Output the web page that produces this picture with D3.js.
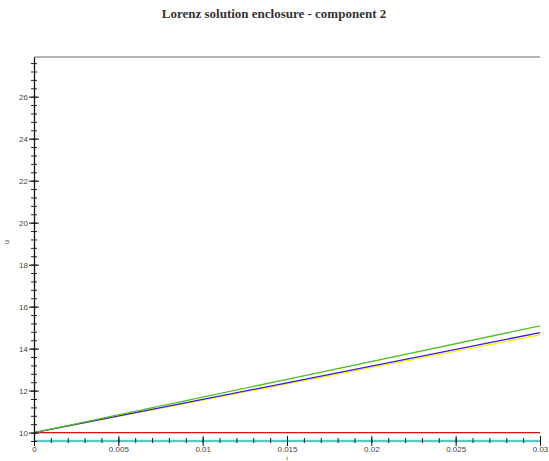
<!DOCTYPE html>
<html>
<head>
<meta charset="utf-8">
<script src="https://cdn.jsdelivr.net/npm/d3@7"></script>
<style>
  body { margin: 0; background: #fff; }
  svg { display: block; }
</style>
</head>
<body>
<div id="chart"></div>
<script>
var width = 549,
    height = 461,
    margins = {top: 57, right: 9, bottom: 20, left: 34}

var title = 'Lorenz solution enclosure - component 2'

// time samples and enclosure bounds (component 2)
var t = [0, 0.015, 0.03]
var lower = [10, 10, 10]
var upperGreen = [10, 12.54, 15.08]
var blueLine = [10, 12.37, 14.76]
var yellowLine = [10, 12.32, 14.66]
var axisLine = [9.6, 9.6, 9.6]

var xMajor = [0, 0.005, 0.01, 0.015, 0.02, 0.025, 0.03]
var xMajorLabels = ['0', '0.005', '0.01', '0.015', '0.02', '0.025', '0.03']
var yMajor = [10, 12, 14, 16, 18, 20, 22, 24, 26]
var yMajorLabels = ['10', '12', '14', '16', '18', '20', '22', '24', '26']

var series = [
    {name: 'lower', values: lower, color: '#e01010', width: 1.3},
    {name: 'yellow', values: yellowLine, color: '#f5f500', width: 1.4},
    {name: 'blue', values: blueLine, color: '#3818e8', width: 1.3},
    {name: 'green', values: upperGreen, color: '#50c020', width: 1.3}
]

var x = d3.scaleLinear()
    .domain([0, 0.03])
    .range([margins.left, width - margins.right])

var y = d3.scaleLinear()
    .domain([9.6, 27.89])
    .range([height - margins.bottom, margins.top])

var vis = d3.select('#chart').append('svg')
    .attr('width', width)
    .attr('height', height)

vis.append('text')
    .attr('x', 274)
    .attr('y', 18)
    .attr('text-anchor', 'middle')
    .style('font-family', '"Liberation Serif", serif')
    .style('font-size', '13px')
    .style('font-weight', 'bold')
    .style('fill', '#333')
    .text(title)

// top frame line
vis.append('line')
    .attr('x1', x.range()[0]).attr('x2', x.range()[1])
    .attr('y1', margins.top).attr('y2', margins.top)
    .attr('stroke', '#9a9a9a')
    .attr('stroke-width', 1.5)

// lines
var line = d3.line()
    .x(function(d, i) { return x(t[i]) })
    .y(function(d) { return y(d) })

series.forEach(function(s) {
    vis.append('path')
        .datum(s.values)
        .attr('d', line)
        .attr('fill', 'none')
        .attr('stroke', s.color)
        .attr('stroke-width', s.width)
})

// bottom cyan line (acts as the x axis line)
vis.append('path')
    .datum(axisLine)
    .attr('d', line)
    .attr('fill', 'none')
    .attr('stroke', '#7fe6e6')
    .attr('stroke-width', 2.5)
vis.append('path')
    .datum(axisLine)
    .attr('d', line)
    .attr('fill', 'none')
    .attr('stroke', '#3aa7a7')
    .attr('stroke-width', 1.2)

var tickFont = 'Liberation Sans, Arial, sans-serif'

// x axis
var xAxis = d3.axisBottom(x)
    .tickValues(d3.range(0, 31).map(function(i) { return i * 0.001 }))
    .tickSize(0)
    .tickFormat('')
var gx = vis.append('g')
    .attr('transform', 'translate(0,' + y(9.6) + ')')
    .call(xAxis)
gx.select('.domain').remove()
gx.selectAll('.tick line')
    .attr('y1', -3).attr('y2', 2)
    .attr('stroke', '#222')

var gxMajor = vis.append('g')
    .attr('transform', 'translate(0,' + y(9.6) + ')')
    .call(d3.axisBottom(x)
        .tickValues(xMajor)
        .tickSize(0)
        .tickPadding(5)
        .tickFormat(function(d, i) { return xMajorLabels[i] }))
gxMajor.select('.domain').remove()
gxMajor.selectAll('.tick line')
    .attr('y1', -5).attr('y2', 5)
    .attr('stroke', '#111')
gxMajor.selectAll('.tick text')
    .style('font-family', tickFont)
    .style('font-size', '8px')
    .style('fill', '#444')

// y axis
var yMinor = d3.range(0, 46).map(function(i) { return 9.6 + i * 0.4 })
var gy = vis.append('g')
    .attr('transform', 'translate(' + x(0) + ',0)')
    .call(d3.axisLeft(y).tickValues(yMinor).tickSize(0).tickFormat(''))
gy.select('.domain')
    .attr('stroke', '#111')
    .attr('stroke-width', 1.3)
gy.selectAll('.tick line')
    .attr('x1', -3).attr('x2', 3)
    .attr('stroke', '#222')

var gyMajor = vis.append('g')
    .attr('transform', 'translate(' + x(0) + ',0)')
    .call(d3.axisLeft(y)
        .tickValues(yMajor)
        .tickSize(0)
        .tickPadding(6)
        .tickFormat(function(d, i) { return yMajorLabels[i] }))
gyMajor.select('.domain').remove()
gyMajor.selectAll('.tick line')
    .attr('x1', -5).attr('x2', 5)
    .attr('stroke', '#111')
gyMajor.selectAll('.tick text')
    .style('font-family', tickFont)
    .style('font-size', '8px')
    .style('fill', '#444')

// axis labels
vis.append('text')
    .attr('transform', 'translate(9,242) rotate(-90)')
    .attr('text-anchor', 'middle')
    .style('font-family', tickFont)
    .style('font-size', '7px')
    .style('fill', '#444')
    .text('u')

vis.append('text')
    .attr('x', (x.range()[0] + x.range()[1]) / 2)
    .attr('y', 460)
    .attr('text-anchor', 'middle')
    .style('font-family', tickFont)
    .style('font-size', '6px')
    .style('fill', '#444')
    .text('t')
</script>
</body>
</html>
